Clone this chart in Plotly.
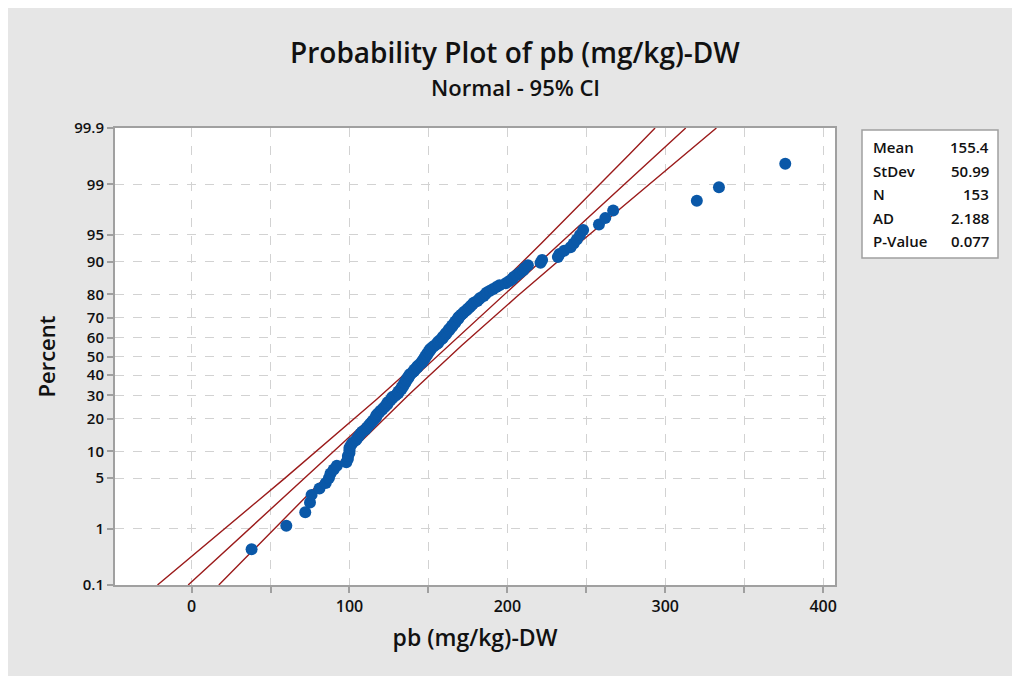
import math
import plotly.graph_objects as go

# ---------------- data ----------------
pb_values = [
    38, 60, 72, 75, 76, 81, 85, 87, 88, 90, 92,
    98, 99, 99, 100, 100, 100, 101, 102, 104, 105, 106, 107, 108, 110, 111, 112, 113, 114, 115,
    116, 117, 117, 118, 119, 120, 121, 122, 123, 124, 124, 125, 126, 127, 127,
    129, 130, 131, 131, 132, 133, 133, 134, 134, 135, 135, 136, 136, 137, 137, 138, 138,
    139, 140, 141, 141, 142, 143, 143, 144, 145, 146, 146, 147, 147, 148, 148,
    149, 149, 150, 150, 151, 151, 152, 153, 154, 155, 156, 156, 157, 158, 159,
    159, 160, 161, 161, 162, 163, 163, 164, 165, 165, 166, 167, 167, 168, 169, 169,
    170, 171, 172, 173, 174, 175, 176, 177, 178, 179, 181, 182, 183, 185, 186,
    187, 189, 191, 193, 195, 199, 201, 203, 204, 206, 208, 210, 211, 213, 221, 222,
    232, 233, 236, 240, 242, 244, 246, 248, 258, 262, 267,
    320, 334, 376,
]
stat_labels = ["Mean", "StDev", "N", "AD", "P-Value"]
stat_values = ["155.4", "50.99", "153", "2.188", "0.077"]
MEAN = 155.4
STDEV = 50.99
N = 153
CONF_Z = 1.959964
y_tick_percents = [0.1, 1, 5, 10, 20, 30, 40, 50, 60, 70, 80, 90, 95, 99, 99.9]
x_tick_values = [0, 100, 200, 300, 400]


# ---------------- helpers ----------------
def norm_cdf(z):
    return 0.5 * (1.0 + math.erf(z / math.sqrt(2.0)))


def norm_ppf(p):
    lo, hi = -10.0, 10.0
    for _ in range(200):
        mid = 0.5 * (lo + hi)
        if norm_cdf(mid) < p:
            lo = mid
        else:
            hi = mid
    return 0.5 * (lo + hi)


xs = sorted(pb_values)
n = len(xs)
# Benard median-rank plotting positions
z_pts = [norm_ppf((i + 1 - 0.3) / (n + 0.4)) for i in range(n)]

z_lo = norm_ppf(0.001)
z_hi = norm_ppf(0.999)
steps = 300
z_line = [z_lo + (z_hi - z_lo) * k / steps for k in range(steps + 1)]
fit_x = [MEAN + STDEV * z for z in z_line]
half = [CONF_Z * STDEV * math.sqrt((1 + z * z / 2.0) / N) for z in z_line]
lo_x = [f - h for f, h in zip(fit_x, half)]
hi_x = [f + h for f, h in zip(fit_x, half)]

LINE_COLOR = "#9b1b1b"
DOT_COLOR = "#0a58a8"
FONT = "Open Sans"
TXT = "#111111"

fig = go.Figure()
for xx in (lo_x, fit_x, hi_x):
    fig.add_trace(go.Scatter(x=xx, y=z_line, mode="lines",
                             line=dict(color=LINE_COLOR, width=1.4),
                             hoverinfo="skip", showlegend=False))
fig.add_trace(go.Scatter(x=xs, y=z_pts, mode="markers",
                         marker=dict(color=DOT_COLOR, size=12, line=dict(width=0)),
                         showlegend=False))

# layout geometry (pixels); page body has an 8px margin
OFF = 8
W, H = 1020 - OFF, 676 - OFF
L, T = 115 - OFF, 128 - OFF
R = W - (835 - OFF)
B = H - (585 - OFF)
pw, ph = W - L - R, H - T - B


def px_to_paper_x(px):  # px in page coords
    return (px - OFF - L) / pw


def px_to_paper_y(py):
    return (H - B - (py - OFF)) / ph


fig.update_layout(
    width=W, height=H,
    margin=dict(l=L, r=R, t=T, b=B, autoexpand=False),
    paper_bgcolor="#e6e6e6",
    plot_bgcolor="#ffffff",
    font=dict(family=FONT, color=TXT),
    showlegend=False,
    xaxis=dict(
        range=[-48.5, 407.5],
        tickvals=x_tick_values,
        ticktext=[str(v) for v in x_tick_values],
        ticks="outside", ticklen=6, tickwidth=1.5, tickcolor="#a0a0a0",
        showline=True, linecolor="#a0a0a0", linewidth=2, mirror=True,
        showgrid=True, gridcolor="#d2d2d2", griddash="dash", gridwidth=1,
        zeroline=False,
        minor=dict(tickvals=[50, 150, 250, 350], ticks="outside", ticklen=6,
                   tickcolor="#a0a0a0", tickwidth=1.5, showgrid=True,
                   gridcolor="#d2d2d2", griddash="dash", gridwidth=1),
        tickfont=dict(size=16, family=FONT, weight=600),
        title=dict(text="pb (mg/kg)-DW", font=dict(size=23, family=FONT, weight=600), standoff=14),
    ),
    yaxis=dict(
        range=[z_lo, z_hi],
        tickvals=[norm_ppf(p / 100.0) for p in y_tick_percents],
        ticktext=[("%g" % p) for p in y_tick_percents],
        ticks="outside", ticklen=6, tickwidth=1.5, tickcolor="#a0a0a0",
        showline=True, linecolor="#a0a0a0", linewidth=2, mirror=True,
        showgrid=True, gridcolor="#d2d2d2", griddash="dash", gridwidth=1,
        zeroline=False,
        tickfont=dict(size=15, family=FONT, weight=600),
        title=dict(text="Percent", font=dict(size=22, family=FONT, weight=600), standoff=12),
    ),
)

# titles
fig.add_annotation(text="Probability Plot of pb (mg/kg)-DW", xref="paper", yref="paper",
                   x=px_to_paper_x(515), y=px_to_paper_y(52), xanchor="center", yanchor="middle",
                   showarrow=False, font=dict(size=28, family=FONT, weight=600))
fig.add_annotation(text="Normal - 95% CI", xref="paper", yref="paper",
                   x=px_to_paper_x(515), y=px_to_paper_y(87), xanchor="center", yanchor="middle",
                   showarrow=False, font=dict(size=22, family=FONT, weight=600))

# stats box
fig.add_shape(type="rect", xref="paper", yref="paper",
              x0=px_to_paper_x(862), x1=px_to_paper_x(998),
              y0=px_to_paper_y(130), y1=px_to_paper_y(258),
              fillcolor="#ffffff", line=dict(color="#a0a0a0", width=1.5), layer="above")
for k, (lab, val) in enumerate(zip(stat_labels, stat_values)):
    py = 147 + k * 23.5
    fig.add_annotation(text=lab, xref="paper", yref="paper", x=px_to_paper_x(871), y=px_to_paper_y(py),
                       xanchor="left", yanchor="middle", showarrow=False,
                       font=dict(size=15, family=FONT, weight=600))
    fig.add_annotation(text=val, xref="paper", yref="paper", x=px_to_paper_x(991), y=px_to_paper_y(py),
                       xanchor="right", yanchor="middle", showarrow=False,
                       font=dict(size=15, family=FONT, weight=600))

fig.write_html("out.html")
